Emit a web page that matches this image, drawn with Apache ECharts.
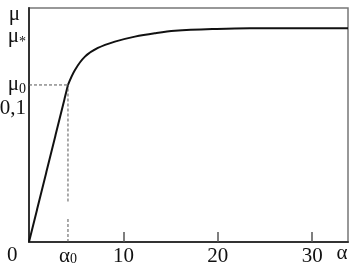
<!DOCTYPE html>
<html><head><meta charset="utf-8">
<script src="https://cdn.jsdelivr.net/npm/echarts@6/dist/echarts.min.js"></script>
<style>html,body{margin:0;padding:0;background:#fff}#c{width:356px;height:265px}</style>
</head><body><div id="c"></div>
<script>
const alpha0 = 4.13;
const mu0 = 0.1163;
const muStar = 0.1583;
const xMax = 33.8;
const yMax = 0.1733;
const linearX = [0, alpha0];
const linearY = [0, mu0];
const curveX = [4.13, 4.87, 5.93, 7.30, 9.10, 11.22, 13.33, 15.45, 19.9, 23.4, 33.8];
const curveY = [0.1163, 0.1274, 0.1373, 0.1437, 0.1484, 0.1521, 0.1546, 0.1564, 0.1578, 0.1583, 0.1583];
const xTickValues = [10, 20, 30];
const xLabelValues = [alpha0, 10, 20, 30];
const xLabelTexts = ['α{x|0}', '10', '20', '30'];
const yLabelValues = [0.099, mu0, 0.152];
const yLabelTexts = ['0,1', 'μ{s|0}', 'μ{a|*}'];
const yName = 'μ';
const cornerLabel = '0';
const xName = 'α';
const gapLow = 0.018, gapHigh = 0.030;

const F = 'Liberation Serif, Times New Roman, serif';
const FS = 21;
const rich = {
  s: {fontFamily: F, fontSize: 14, color: '#111', padding: [8, 0, 0, 0]},
  x: {fontFamily: F, fontSize: 14, color: '#111', padding: [5, 0, 0, 0]},
  a: {fontFamily: F, fontSize: 14, color: '#111', padding: [11, 0, 0, 0]}
};
const zip = (xs, ys) => xs.map((x, i) => [x, ys[i]]);
const dash = {color: '#555', width: 1, type: [3, 2]};

const chart = echarts.init(document.getElementById('c'), null, {renderer: 'canvas'});
chart.setOption({
  animation: false,
  grid: {left: 29, top: 8, right: 8, bottom: 23, show: true, borderColor: '#777', borderWidth: 1.5,
         containLabel: false, outerBoundsMode: 'none'},
  xAxis: {
    type: 'value', min: 0, max: xMax,
    name: xName, nameLocation: 'end', nameGap: -6,
    nameTextStyle: {fontFamily: F, fontSize: FS, color: '#111', align: 'center', verticalAlign: 'top', padding: [1, 0, 0, 0]},
    splitLine: {show: false},
    axisLine: {lineStyle: {color: '#333', width: 2}},
    axisTick: {show: true, inside: true, length: 10, customValues: xTickValues, lineStyle: {color: '#555', width: 1.5}},
    axisLabel: {
      customValues: xLabelValues, margin: 4, hideOverlap: false,
      fontFamily: F, fontSize: FS, color: '#111', rich,
      formatter: v => xLabelTexts[xLabelValues.indexOf(v)]
    }
  },
  yAxis: {
    type: 'value', min: 0, max: yMax,
    name: yName, nameLocation: 'end', nameGap: -6,
    nameTextStyle: {fontFamily: F, fontSize: FS, color: '#111', align: 'right', verticalAlign: 'middle', padding: [0, 9, 0, 0]},
    splitLine: {show: false},
    axisLine: {lineStyle: {color: '#333', width: 2}},
    axisTick: {show: false},
    axisLabel: {
      customValues: yLabelValues, margin: 3, hideOverlap: false,
      fontFamily: F, fontSize: FS, color: '#111', rich,
      formatter: v => yLabelTexts[yLabelValues.indexOf(v)]
    }
  },
  graphic: [{
    type: 'text', left: 7, top: 245,
    style: {text: cornerLabel, font: FS + 'px ' + F, fill: '#111'}
  }],
  series: [
    {type: 'line', data: zip(linearX, linearY), symbol: 'none', lineStyle: {color: '#111', width: 2}},
    {type: 'line', data: zip(curveX, curveY), symbol: 'none', smooth: 0.35, lineStyle: {color: '#111', width: 2}},
    {type: 'line', data: [[0, mu0], [alpha0, mu0]], symbol: 'none', lineStyle: dash},
    {type: 'line', data: [[alpha0, 0], [alpha0, gapLow]], symbol: 'none', lineStyle: dash},
    {type: 'line', data: [[alpha0, gapHigh], [alpha0, mu0]], symbol: 'none', lineStyle: dash}
  ]
});
</script></body></html>
